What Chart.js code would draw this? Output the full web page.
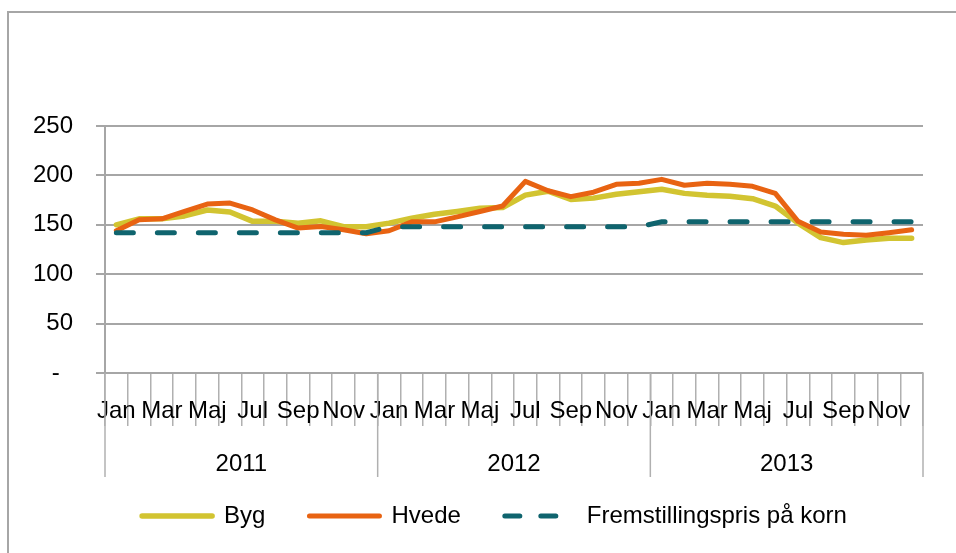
<!DOCTYPE html>
<html>
<head>
<meta charset="utf-8">
<script src="https://cdn.jsdelivr.net/npm/chart.js@4"></script>
<style>
html,body{margin:0;padding:0;background:#fff;}
#wrap{width:956px;height:553px;position:relative;}
</style>
</head>
<body>
<div id="wrap"><canvas id="c" width="956" height="553"></canvas></div>
<script>
const monthNames = ['Jan','Feb','Mar','Apr','Maj','Jun','Jul','Aug','Sep','Okt','Nov','Dec'];
const years = ['2011','2012','2013'];
const months = [].concat(monthNames, monthNames, monthNames);
const yTicks = [0, 50, 100, 150, 200, 250];

const byg = [150, 156, 156, 159, 165, 163, 153.5, 153.5, 151.5, 154, 148, 148,
             151.7, 156.7, 160.7, 163.5, 166.8, 167.5, 180, 184, 175.7, 177, 181, 183.5,
             186, 181.8, 180, 179, 176.4, 169, 151.7, 137, 132, 134.7, 136.4, 136.4];
const hvede = [144, 155, 156, 163.5, 171, 172, 165, 155, 146.7, 148.3, 145, 141,
               144, 153, 153, 158, 163.5, 169, 194, 184.5, 178.5, 183, 191, 192,
               196, 190, 192, 191, 189, 181.8, 153.5, 142.7, 140.4, 139.4, 142, 145];
const fremst = [142,142,142,142,142,142,142,142,142,142,142,142,
                148,148,148,148,148,148,148,148,148,148,148,148,
                153,153,153,153,153,153,153,153,153,153,153,153];

const FONT = 'Liberation Sans, Arial, sans-serif';
const FS = 24;
const GRID = '#A6A6A6';

const decor = {
  id: 'decor',
  afterLayout(chart) {
    if (chart.legend) { chart.legend.left += 18; chart.legend.right += 18; }
  },
  beforeDraw(chart) {
    const ctx = chart.ctx;
    ctx.save();
    ctx.fillStyle = '#fff';
    ctx.fillRect(0, 0, chart.width, chart.height);
    ctx.strokeStyle = GRID;
    ctx.lineWidth = 2;
    ctx.beginPath();
    ctx.moveTo(8, chart.height);
    ctx.lineTo(8, 12);
    ctx.lineTo(chart.width, 12);
    ctx.stroke();
    ctx.restore();
  },
  afterDraw(chart) {
    const xs = chart.scales.x;
    const ctx = chart.ctx;
    const half = (xs.getPixelForValue(1) - xs.getPixelForValue(0)) / 2;
    ctx.save();
    ctx.strokeStyle = '#B0B0B0';
    ctx.lineWidth = 1.5;
    const bounds = [];
    for (let y = 0; y <= years.length; y++) {
      const idx = y * 12;
      const px = idx >= months.length ? xs.getPixelForValue(months.length - 1) + half : xs.getPixelForValue(idx) - half;
      bounds.push(px);
      ctx.beginPath();
      ctx.moveTo(px, xs.top);
      ctx.lineTo(px, xs.top + 104);
      ctx.stroke();
    }
    ctx.fillStyle = '#000';
    ctx.font = FS + 'px ' + FONT;
    ctx.textAlign = 'center';
    ctx.textBaseline = 'middle';
    years.forEach((yr, i) => {
      ctx.fillText(yr, (bounds[i] + bounds[i + 1]) / 2, xs.top + 91);
    });
    ctx.restore();
  }
};

new Chart(document.getElementById('c'), {
  type: 'line',
  data: {
    labels: months,
    datasets: [
      { label: 'Byg', data: byg, borderColor: '#D2C431', backgroundColor: '#D2C431',
        borderWidth: 5.5, pointRadius: 0, tension: 0, borderCapStyle: 'round', borderJoinStyle: 'round', order: 3 },
      { label: 'Hvede', data: hvede, borderColor: '#E86312', backgroundColor: '#E86312',
        borderWidth: 5, pointRadius: 0, tension: 0, borderCapStyle: 'round', borderJoinStyle: 'round', order: 2 },
      { label: 'Fremstillingspris på korn', data: fremst, borderColor: '#0F646E', backgroundColor: '#0F646E',
        borderWidth: 5, pointRadius: 0, tension: 0, borderDash: [17, 24], borderCapStyle: 'round', order: 1 }
    ]
  },
  options: {
    responsive: false,
    animation: false,
    layout: { padding: { left: 30, right: 33, top: 126, bottom: 15 } },
    plugins: {
      tooltip: { enabled: false },
      legend: {
        position: 'bottom',
        labels: {
          usePointStyle: true,
          pointStyle: 'line',
          pointStyleWidth: 70,
          boxHeight: 10,
          padding: 44,
          color: '#000',
          font: { family: FONT, size: FS },
          sort: (a, b) => a.datasetIndex - b.datasetIndex,
          generateLabels: (chart) => {
            const items = Chart.defaults.plugins.legend.labels.generateLabels(chart);
            items.forEach(it => {
              const ds = chart.data.datasets[it.datasetIndex];
              it.lineDash = ds.borderDash ? [15, 21] : [];
              it.lineWidth = ds.borderWidth;
              it.strokeStyle = ds.borderColor;
              it.fillStyle = ds.borderColor;
              it.lineCap = 'round';
              it.pointStyle = 'line';
            });
            return items;
          }
        }
      }
    },
    scales: {
      x: {
        offset: true,
        grid: { offset: true, drawOnChartArea: false, tickLength: 53, color: '#B0B0B0', lineWidth: 1.5 },
        border: { color: GRID, width: 2 },
        ticks: {
          autoSkip: false, maxRotation: 0, minRotation: 0, padding: -29, color: '#000',
          font: { family: FONT, size: FS },
          callback: function (val, index) { return index % 2 === 0 ? this.getLabelForValue(val) : ''; }
        },
        afterFit: (s) => { s.height = 87; }
      },
      y: {
        min: 0, max: 250,
        afterBuildTicks: (s) => { s.ticks = yTicks.map(v => ({ value: v })); },
        grid: { color: GRID, lineWidth: 2, tickLength: 9 },
        border: { color: GRID, width: 2 },
        ticks: {
          padding: 23, color: '#000', font: { family: FONT, size: FS },
          callback: (v) => v === 0 ? '-  ' : String(v)
        },
        afterFit: (s) => { s.width = 75; }
      }
    }
  },
  plugins: [decor]
});
</script>
</body>
</html>
